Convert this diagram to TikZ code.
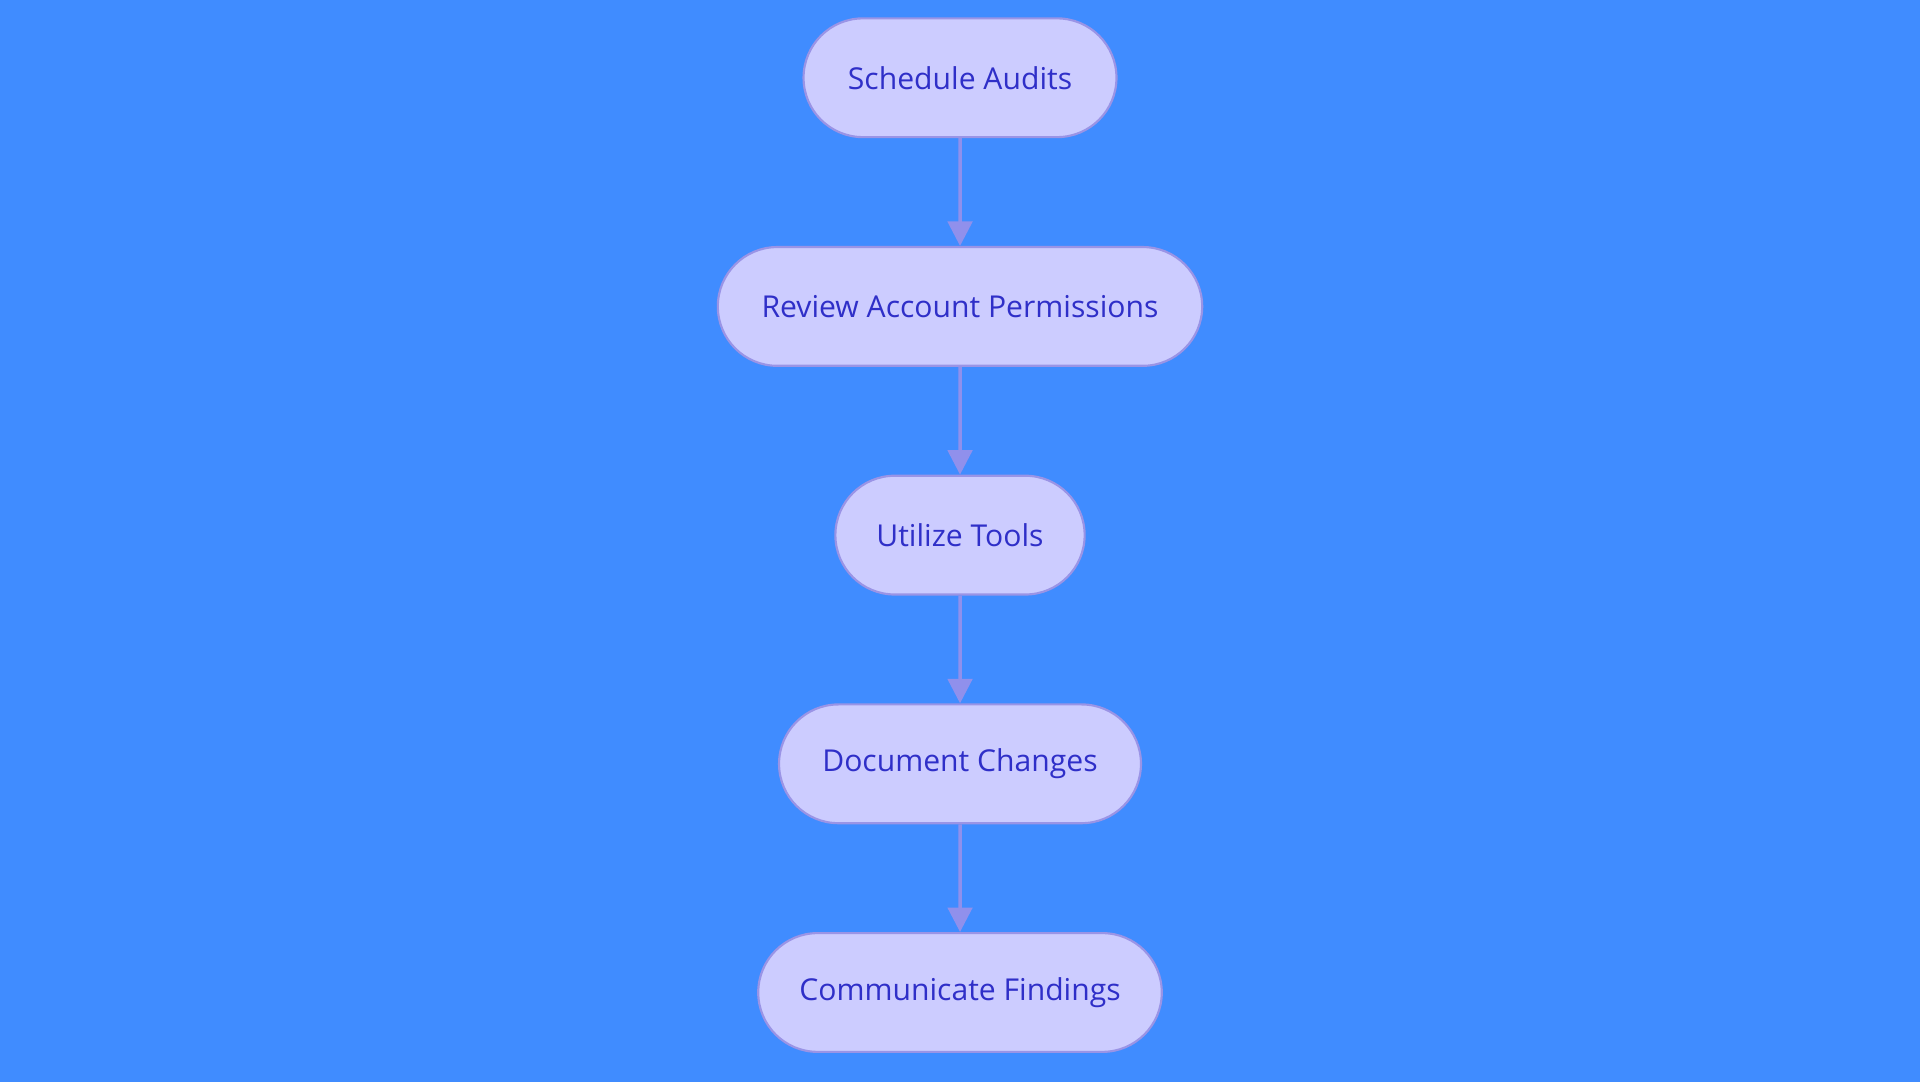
\documentclass[tikz,border=0pt]{standalone}
\usepackage{fontspec}
\setmainfont{Open Sans}
\usetikzlibrary{positioning,shapes.misc,arrows.meta}

\definecolor{bgblue}{HTML}{408CFF}
\definecolor{stepfill}{HTML}{CCCCFF}
\definecolor{stepline}{HTML}{9A94E6}
\definecolor{steptext}{HTML}{2F2FC8}
\definecolor{flowline}{HTML}{9090EC}

\tikzset{
    step/.style={rounded rectangle, draw=stepline, fill=stepfill, line width=0.5pt,
        text=steptext, font=\fontsize{7}{9}\selectfont,
        minimum height=0.97cm, minimum width=#1},
    flow/.style={draw=flowline, line width=0.8pt, -{Triangle[length=0.2cm,width=0.2cm]}}
}

\begin{document}
\begin{tikzpicture}[node distance=0.88cm]

    % Background and bounding box
    \fill[bgblue] (0,0) rectangle (15.68,-8.84);
    \useasboundingbox (0,0) rectangle (15.68,-8.84);

    % Steps of the audit
    \node[step=2.79cm] (audits) at (7.84,-0.635) {Schedule Audits};
    \node[step=4.19cm, below=of audits] (review) {Review Account Permissions};
    \node[step=2.27cm, below=of review] (tools) {Utilize Tools};
    \node[step=3.19cm, below=of tools] (changes) {Document Changes};
    \node[step=3.53cm, below=of changes] (findings) {Communicate Findings};

    % Connectors
    \draw[flow] (audits) -- (review);
    \draw[flow] (review) -- (tools);
    \draw[flow] (tools) -- (changes);
    \draw[flow] (changes) -- (findings);

\end{tikzpicture}
\end{document}
